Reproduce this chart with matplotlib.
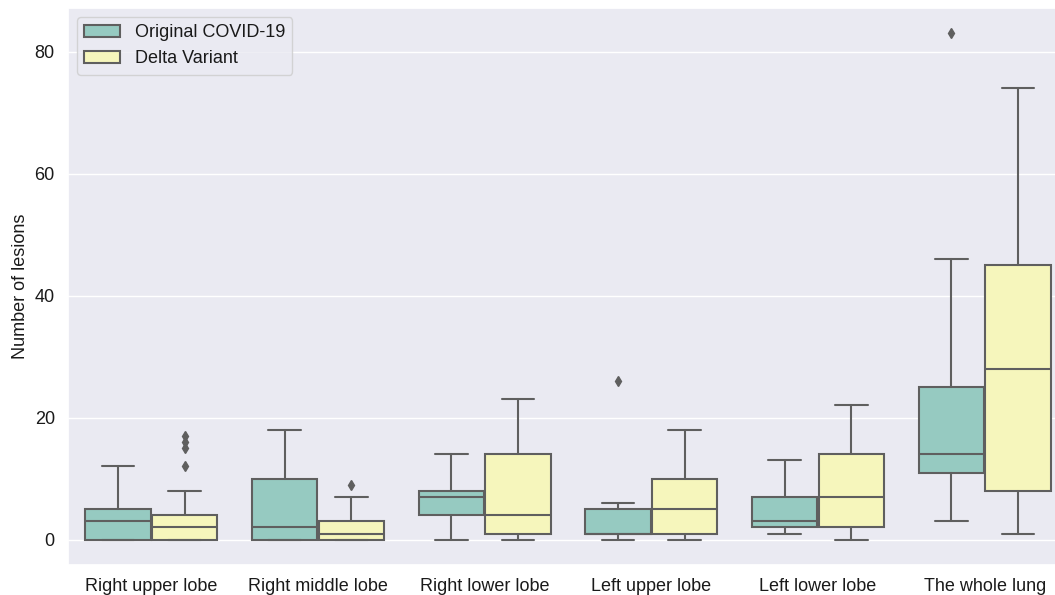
import matplotlib
matplotlib.use("Agg")
import matplotlib.pyplot as plt
import seaborn as sns
from matplotlib.patches import Patch

categories = ["Right upper lobe", "Right middle lobe", "Right lower lobe",
              "Left upper lobe", "Left lower lobe", "The whole lung"]
series = ["Original COVID-19", "Delta Variant"]

# Original COVID-19
orig_whislo = [0, 0, 0, 0, 1, 3]
orig_q1     = [0, 0, 4, 1, 2, 11]
orig_med    = [3, 2, 7, 1, 3, 14]
orig_q3     = [5, 10, 8, 5, 7, 25]
orig_whishi = [12, 18, 14, 6, 13, 46]
orig_fliers = [[], [], [], [26], [], [83]]

# Delta Variant
delta_whislo = [0, 0, 0, 0, 0, 1]
delta_q1     = [0, 0, 1, 1, 2, 8]
delta_med    = [2, 1, 4, 5, 7, 28]
delta_q3     = [4, 3, 14, 10, 14, 45]
delta_whishi = [8, 7, 23, 18, 22, 74]
delta_fliers = [[12, 15, 16, 17], [9], [], [], [], []]

sns.set_theme(style="darkgrid")
plt.rcParams['font.family'] = ['Liberation Sans', 'DejaVu Sans']
plt.rcParams['text.color'] = '#1a1a1a'
plt.rcParams['xtick.color'] = '#1a1a1a'
plt.rcParams['ytick.color'] = '#1a1a1a'
plt.rcParams['axes.labelcolor'] = '#1a1a1a'

base = sns.color_palette("Set3", 2)
colors = [sns.desaturate(c, 0.75) for c in base]
gray = "#5f5f5f"

fig = plt.figure(figsize=(10.55, 5.95), dpi=100)
ax = fig.add_axes([68/1055, 30/595, (1068-68)/1055, (565-8)/595])

def stats(wl, q1, md, q3, wh, fl):
    return [dict(whislo=a, q1=b, med=c, q3=d, whishi=e, fliers=f)
            for a, b, c, d, e, f in zip(wl, q1, md, q3, wh, fl)]

groups = [
    stats(orig_whislo, orig_q1, orig_med, orig_q3, orig_whishi, orig_fliers),
    stats(delta_whislo, delta_q1, delta_med, delta_q3, delta_whishi, delta_fliers),
]
offsets = [-0.2, 0.2]
lw = 1.5
for g, off, col in zip(groups, offsets, colors):
    pos = [i + off for i in range(len(categories))]
    ax.bxp(g, positions=pos, widths=0.392, patch_artist=True,
           showfliers=True, manage_ticks=False,
           boxprops=dict(facecolor=col, edgecolor=gray, linewidth=lw),
           medianprops=dict(color=gray, linewidth=lw),
           whiskerprops=dict(color=gray, linewidth=lw),
           capprops=dict(color=gray, linewidth=lw),
           flierprops=dict(marker="d", markerfacecolor=gray, markeredgecolor=gray,
                           markersize=5, linestyle="none"),
           capwidths=0.196)

ax.set_xlim(-0.5, len(categories) - 0.5)
ax.set_xticks(range(len(categories)))
ax.set_xticklabels(categories, fontsize=13)
ax.tick_params(axis="y", labelsize=13)
ax.set_ylabel("Number of lesions", fontsize=13)
ax.grid(axis="x", visible=False)

handles = [Patch(facecolor=c, edgecolor=gray, linewidth=lw, label=s)
           for c, s in zip(colors, series)]
ax.legend(handles=handles, loc="upper left", fontsize=13)

fig.savefig("out.png", dpi=100)
